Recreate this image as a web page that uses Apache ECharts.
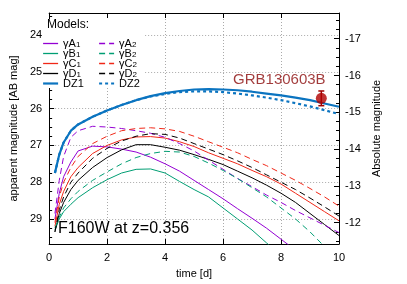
<!DOCTYPE html>
<html><head><meta charset="utf-8">
<script src="https://cdn.jsdelivr.net/npm/echarts@6/dist/echarts.min.js"></script>
<style>html,body{margin:0;padding:0;background:#fff}#c{width:407px;height:284px}</style>
</head><body><div id="c"></div>
<script>
const days = [0.2,0.35,0.5,0.75,1,1.5,2,2.5,3,3.5,4,4.5,5,5.5,6,6.5,7,7.5,8,8.5,9,9.5,10];
const gammaA1 = [29.0,28.3,27.85,27.45,27.15,27.02,27.04,27.1,27.18,27.32,27.5,27.7,27.95,28.2,28.45,28.72,28.98,29.25,29.55,29.85];
const gammaA2 = [28.85,27.95,27.3,26.78,26.6,26.48,26.5,26.54,26.6,26.67,26.78,26.95,27.15,27.4,27.65,27.9,28.12,28.35,28.55,28.77,28.97,29.17,29.37];
const gammaB1 = [29.3,29.0,28.8,28.6,28.42,28.15,27.93,27.75,27.65,27.64,27.75,27.98,28.2,28.4,28.7,29.0,29.3,29.65,30.0];
const gammaB2 = [29.25,28.95,28.7,28.45,28.25,27.95,27.72,27.5,27.33,27.22,27.16,27.18,27.3,27.48,27.68,27.9,28.15,28.4,28.7,29.0,29.35,29.75];
const gammaC1 = [29.2,28.6,28.25,27.85,27.6,27.22,27.0,26.85,26.77,26.76,26.8,26.9,27.03,27.2,27.35,27.5,27.68,27.85,28.05,28.3,28.55,28.8,29.05];
const gammaC2 = [29.1,28.4,28.0,27.6,27.3,26.95,26.75,26.6,26.54,26.52,26.55,26.62,26.75,26.9,27.05,27.2,27.38,27.55,27.75,27.95,28.17,28.4,28.65];
const gammaD1 = [29.35,28.85,28.55,28.2,27.95,27.6,27.33,27.12,26.98,26.98,27.05,27.13,27.25,27.38,27.52,27.7,27.88,28.08,28.3,28.55,28.85,29.15,29.45];
const gammaD2 = [29.35,28.75,28.4,28.0,27.75,27.35,27.08,26.88,26.75,26.68,26.7,26.8,26.95,27.1,27.25,27.42,27.6,27.8,28.0,28.2,28.43,28.67,28.92];
const dz1 = [27.75,27.25,26.92,26.6,26.43,26.22,26.05,25.9,25.77,25.66,25.58,25.52,25.48,25.47,25.48,25.5,25.54,25.59,25.64,25.7,25.77,25.86,25.95];
const dz2 = [27.75,27.25,26.92,26.6,26.43,26.22,26.05,25.9,25.77,25.67,25.6,25.55,25.53,25.53,25.55,25.59,25.64,25.7,25.77,25.85,25.94,26.04,26.15];
const grbTime = [9.39];
const grbMag = [25.72];
const grbErr = [0.2];
const xTicks = [0,2,4,6,8,10];
const distModulus = 41.1;

const FONT = 'Liberation Sans';
const pair = (arr) => arr.map((v,i)=>[days[i], v]);
const models = [
  {name:'γA1', data:gammaA1, color:'#9400d3', dash:'solid', w:1},
  {name:'γB1', data:gammaB1, color:'#009e73', dash:'solid', w:1},
  {name:'γC1', data:gammaC1, color:'#f02818', dash:'solid', w:1},
  {name:'γD1', data:gammaD1, color:'#000000', dash:'solid', w:1},
  {name:'DZ1', data:dz1, color:'#0b74c0', dash:'solid', w:2.2},
  {name:'γA2', data:gammaA2, color:'#9400d3', dash:[6,4], w:1},
  {name:'γB2', data:gammaB2, color:'#009e73', dash:[6,4], w:1},
  {name:'γC2', data:gammaC2, color:'#f02818', dash:[6,4], w:1},
  {name:'γD2', data:gammaD2, color:'#000000', dash:[6,4], w:1},
  {name:'DZ2', data:dz2, color:'#0b74c0', dash:[3,3], w:2.2}
];
const series = models.map(m=>({
  type:'line', name:m.name, data:pair(m.data), symbol:'none', showSymbol:false,
  clip:true, color:m.color, lineStyle:{color:m.color, width:m.w, type:m.dash}, z:2
}));
series.push({
  type:'custom', name:'err', z:5,
  data: grbTime.map((t,i)=>[t, grbMag[i], grbErr[i]]),
  renderItem: function(params, api){
    const x = api.value(0), y = api.value(1), e = api.value(2);
    const a = api.coord([x, y-e]), b = api.coord([x, y+e]);
    const st = {stroke:'#a00000', lineWidth:1.5};
    return {type:'group', children:[
      {type:'line', shape:{x1:a[0],y1:a[1],x2:b[0],y2:b[1]}, style:st},
      {type:'line', shape:{x1:a[0]-3,y1:a[1],x2:a[0]+3,y2:a[1]}, style:st},
      {type:'line', shape:{x1:b[0]-3,y1:b[1],x2:b[0]+3,y2:b[1]}, style:st}
    ]};
  }
});
series.push({
  type:'scatter', name:'GRB', z:6,
  data: grbTime.map((t,i)=>[t, grbMag[i]]),
  symbol:'circle', symbolSize:11,
  itemStyle:{color:'#b00000'},
  label:{show:true, formatter:'GRB130603B', position:'top', offset:[-42,0],
    color:'#8b0a0a', fontSize:15, fontFamily:FONT}
});

const rich = {
  a:{fontSize:11, lineHeight:10, fontFamily:FONT, color:'#000'},
  b:{fontSize:8, lineHeight:4, verticalAlign:'bottom', fontFamily:FONT, color:'#000'}
};
const fmt = (name) => name.startsWith('γ') ? '{a|' + name.slice(0,-1) + '}{b|' + name.slice(-1) + '}' : '{a|' + name + '}';
const legendItem = (m) => ({name:m.name, lineStyle:{color:m.color, width:m.w === 1 ? 1.3 : m.w, type:m.dash}});
const legendBase = {orient:'vertical', top:38, itemWidth:15, itemHeight:9, itemGap:-1, padding:0,
  itemStyle:{opacity:0, borderWidth:0},
  formatter:fmt, textStyle:{rich:rich, fontSize:11, fontFamily:FONT}, selectedMode:false};

const ext = [23.4, 29.68];
const axisLineStyle = {color:'#000', width:1};
const option = {
  animation:false,
  grid:{left:41, right:68, top:13, bottom:37},
  legend:[
    Object.assign({}, legendBase, {left:42, data:models.slice(0,5).map(legendItem)}),
    Object.assign({}, legendBase, {left:98, data:models.slice(5).map(legendItem)})
  ],
  graphic:[
    {type:'rect', left:46, top:19, shape:{width:99, height:69}, style:{fill:'#fff'}, z:1},
    {type:'text', left:47, top:19, z:10, style:{text:'Models:', fontSize:12, fontFamily:FONT, fill:'#000'}},
    {type:'text', left:58, top:221, z:10, style:{text:'F160W at z=0.356', fontSize:16, fontFamily:FONT, fill:'#000'}}
  ],
  xAxis:[
    {type:'value', min:xTicks[0], max:xTicks[xTicks.length-1], interval:2, position:'bottom',
     name:'time [d]', nameLocation:'middle', nameGap:24,
     nameTextStyle:{fontSize:11, fontFamily:FONT, color:'#000'},
     axisLine:{show:true, onZero:false, lineStyle:axisLineStyle},
     axisTick:{show:true, inside:true, length:5, lineStyle:axisLineStyle},
     axisLabel:{fontSize:11, fontFamily:FONT, color:'#000', margin:8},
     splitLine:{show:true, lineStyle:{color:'#aaa', type:[1,2], width:1}}},
    {type:'value', min:xTicks[0], max:xTicks[xTicks.length-1], interval:2, position:'top',
     axisLine:{show:true, onZero:false, lineStyle:axisLineStyle},
     axisTick:{show:true, inside:true, length:5, lineStyle:axisLineStyle},
     axisLabel:{show:false}, splitLine:{show:false}}
  ],
  yAxis:[
    {type:'value', min:ext[0], max:ext[1], inverse:true, position:'left',
     name:'apparent magnitude [AB mag]', nameLocation:'middle', nameGap:29, nameRotate:90,
     nameTextStyle:{fontSize:11, fontFamily:FONT, color:'#000'},
     axisLine:{show:true, onZero:false, lineStyle:axisLineStyle},
     axisTick:{show:true, inside:true, length:5, lineStyle:axisLineStyle},
     minorTick:{show:true, splitNumber:4, length:3, lineStyle:axisLineStyle},
     axisLabel:{fontSize:11, fontFamily:FONT, color:'#000', margin:7, showMinLabel:false, showMaxLabel:false},
     splitLine:{show:true, lineStyle:{color:'#aaa', type:[1,2], width:1}}},
    {type:'value', min:ext[0]-distModulus, max:ext[1]-distModulus, inverse:true, position:'right',
     name:'Absolute magnitude', nameLocation:'middle', nameGap:23, nameRotate:90,
     nameTextStyle:{fontSize:11, fontFamily:FONT, color:'#000'},
     axisLine:{show:true, onZero:false, lineStyle:axisLineStyle},
     axisTick:{show:true, inside:true, length:5, lineStyle:axisLineStyle},
     minorTick:{show:true, splitNumber:4, length:3, lineStyle:axisLineStyle},
     axisLabel:{fontSize:11, fontFamily:FONT, color:'#000', margin:6, showMinLabel:false, showMaxLabel:false},
     splitLine:{show:false}}
  ],
  series:series
};
const chart = echarts.init(document.getElementById('c'), null, {renderer:'canvas'});
chart.setOption(option);
</script></body></html>
